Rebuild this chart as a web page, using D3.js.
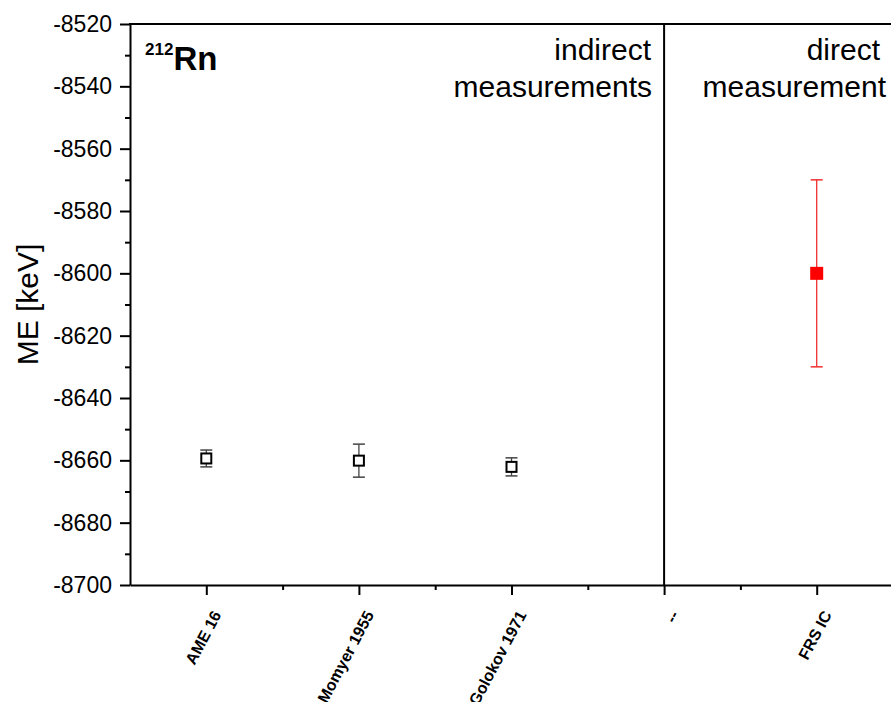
<!DOCTYPE html>
<html lang="en">
<head>
    <meta charset="UTF-8">
    <title>212Rn mass excess</title>
    <style>
        body{ margin: 0; overflow: hidden; background: #fff; }
        text{ font-family: "Liberation Sans", Arial, sans-serif; }
    </style>
</head>
<body>
    <script src="https://d3js.org/d3.v7.min.js"></script>
    <script>
        // categories along x
        const categories = ['AME 16', 'Momyer 1955', 'Golokov 1971', '--', 'FRS IC'];
        // indirect measurements (open squares)
        const indirectNames = ['AME 16', 'Momyer 1955', 'Golokov 1971'];
        const indirectME = [-8659.4, -8660.1, -8662.1];
        const indirectErr = [2.7, 5.3, 2.9];
        // direct measurement (red square)
        const directNames = ['FRS IC'];
        const directME = [-8600];
        const directErr = [30];
        const yTicks = [-8520, -8540, -8560, -8580, -8600, -8620, -8640, -8660, -8680, -8700];

        const width = 891, height = 702;
        const margin = {left: 130, top: 24, right: -2, bottom: 117};

        const svg = d3.select('body').append('svg')
            .attr('width', width)
            .attr('height', height);

        const x = d3.scaleLinear()
            .domain([-0.5, categories.length - 0.5])
            .range([margin.left, width - margin.right]);
        const y = d3.scaleLinear()
            .domain([-8700, -8520])
            .range([height - margin.bottom, margin.top]);

        // y axis with minor ticks
        const yMinor = d3.range(-8690, -8519, 20);
        svg.append('g')
            .attr('transform', `translate(${margin.left},0)`)
            .call(d3.axisLeft(y).tickValues(yMinor).tickSize(5).tickFormat(''))
            .call(g => g.select('.domain').remove())
            .selectAll('line').attr('stroke-width', 2);
        const yAxis = svg.append('g')
            .attr('transform', `translate(${margin.left},0)`)
            .call(d3.axisLeft(y).tickValues(yTicks).tickSize(10).tickPadding(8).tickSizeOuter(0).tickFormat(d => d));
        yAxis.select('.domain').attr('stroke-width', 2);
        yAxis.selectAll('.tick line').attr('stroke-width', 2);
        yAxis.selectAll('.tick text').attr('font-size', 23).attr('fill', '#000')
            .style('font-family', '"Liberation Sans", Arial, sans-serif');

        // x axis: major ticks at categories, minor in between
        const xMinor = d3.range(0.5, categories.length - 1, 1);
        svg.append('g')
            .attr('transform', `translate(0,${y(-8700)})`)
            .call(d3.axisBottom(x).tickValues(xMinor).tickSize(5).tickFormat(''))
            .call(g => g.select('.domain').remove())
            .selectAll('line').attr('stroke-width', 2);
        const xAxis = svg.append('g')
            .attr('transform', `translate(0,${y(-8700)})`)
            .call(d3.axisBottom(x).tickValues(d3.range(categories.length)).tickSize(10).tickSizeOuter(0)
                .tickFormat(i => categories[i]));
        xAxis.select('.domain').attr('stroke-width', 2);
        xAxis.selectAll('.tick line').attr('stroke-width', 2);
        xAxis.selectAll('.tick text')
            .attr('font-size', 16)
            .attr('font-weight', 'bold')
            .attr('fill', '#000')
            .attr('text-anchor', 'end')
            .attr('dy', '0.35em')
            .attr('transform', 'translate(10,27) rotate(-62)')
            .attr('y', 0).attr('x', 0)
            .style('font-family', '"Liberation Sans", Arial, sans-serif');

        // top frame line
        svg.append('line')
            .attr('x1', margin.left - 1).attr('x2', width)
            .attr('y1', y(-8520)).attr('y2', y(-8520))
            .attr('stroke', '#000').attr('stroke-width', 2);

        // separator between indirect and direct
        svg.append('line')
            .attr('x1', x(3)).attr('x2', x(3))
            .attr('y1', y(-8520)).attr('y2', y(-8700))
            .attr('stroke', '#000').attr('stroke-width', 2);

        // error bar helper
        function errorBars(names, vals, errs, color, cap) {
            const g = svg.append('g');
            names.forEach((n, i) => {
                const cx = x(categories.indexOf(n));
                g.append('line').attr('x1', cx).attr('x2', cx)
                    .attr('y1', y(vals[i] - errs[i])).attr('y2', y(vals[i] + errs[i]))
                    .attr('stroke', color).attr('stroke-width', 1.3);
                [vals[i] - errs[i], vals[i] + errs[i]].forEach(v => {
                    g.append('line').attr('x1', cx - cap).attr('x2', cx + cap)
                        .attr('y1', y(v)).attr('y2', y(v))
                        .attr('stroke', color).attr('stroke-width', 1.5);
                });
            });
        }

        errorBars(indirectNames, indirectME, indirectErr, '#444', 6);
        svg.append('g').selectAll('rect')
            .data(indirectNames)
            .enter().append('rect')
            .attr('x', (d, i) => x(categories.indexOf(d)) - 5)
            .attr('y', (d, i) => y(indirectME[i]) - 5)
            .attr('width', 10).attr('height', 10)
            .attr('fill', '#fff').attr('stroke', '#000').attr('stroke-width', 2);

        errorBars(directNames, directME, directErr, '#f03030', 6);
        svg.append('g').selectAll('rect')
            .data(directNames)
            .enter().append('rect')
            .attr('x', (d, i) => x(categories.indexOf(d)) - 6.5)
            .attr('y', (d, i) => y(directME[i]) - 6.5)
            .attr('width', 13).attr('height', 13)
            .attr('fill', '#ff0000');

        // y axis title
        svg.append('text')
            .attr('transform', `translate(38,${y(-8610)}) rotate(-90)`)
            .attr('text-anchor', 'middle')
            .attr('font-size', 30)
            .text('ME [keV]');

        // nuclide label
        const nuc = svg.append('text')
            .attr('x', 145).attr('y', 70)
            .attr('font-weight', 'bold');
        nuc.append('tspan').attr('font-size', 17).attr('dy', -15).text('212');
        nuc.append('tspan').attr('font-size', 33).attr('dy', 15).text('Rn');

        // section labels
        svg.append('text').attr('x', 651).attr('y', 60).attr('text-anchor', 'end')
            .attr('font-size', 30).text('indirect');
        svg.append('text').attr('x', 652).attr('y', 97).attr('text-anchor', 'end')
            .attr('font-size', 30).text('measurements');
        svg.append('text').attr('x', 880).attr('y', 60).attr('text-anchor', 'end')
            .attr('font-size', 30).text('direct');
        svg.append('text').attr('x', 886).attr('y', 97).attr('text-anchor', 'end')
            .attr('font-size', 30).text('measurement');
    </script>
</body>
</html>
